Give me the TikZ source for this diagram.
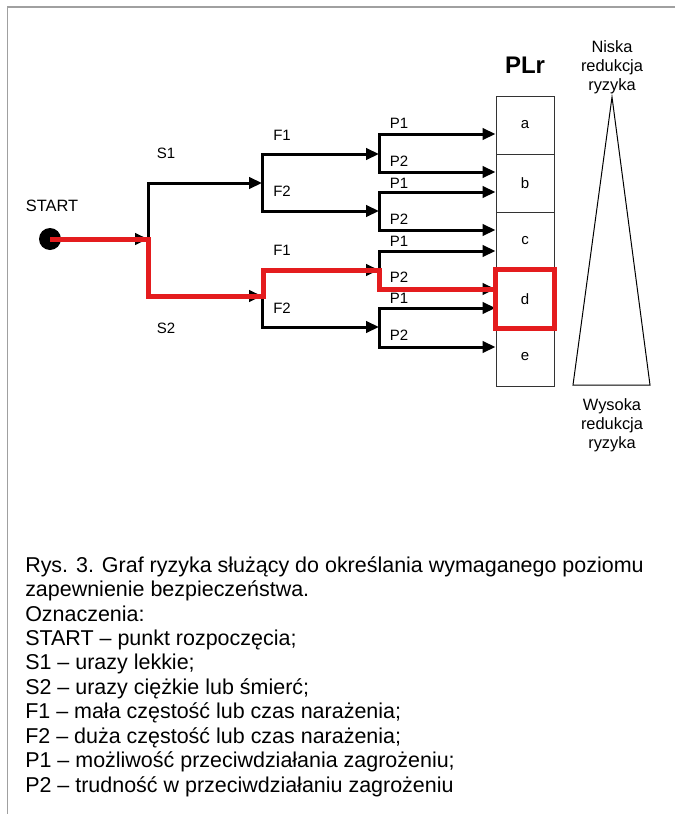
\documentclass[tikz,border=0pt]{standalone}
\usepackage{fontspec}
\setmainfont{Liberation Sans}
\usetikzlibrary{arrows.meta}
\definecolor{pathred}{RGB}{228,28,30}
\definecolor{framegray}{RGB}{160,160,160}
\begin{document}
\begin{tikzpicture}[x=0.75pt,y=-0.75pt,
  conn/.style={line width=2.25pt,-{Triangle[length=9.75pt,width=8.5pt]}},
  junc/.style={line width=2.25pt,line cap=rect},
  lbl/.style={font=\fontsize{11.25}{13}\selectfont,inner sep=0pt},
  biglbl/.style={font=\fontsize{12.3}{14.3}\selectfont,inner sep=0pt,align=center},
  cell/.style={draw=black!80,line width=0.75pt,minimum width=43.5pt,minimum height=43.5pt,inner sep=0pt,font=\fontsize{11.25}{13}\selectfont},
  redline/.style={draw=pathred,line width=3.75pt,line join=miter},
]
\useasboundingbox (0,0) rectangle (675,814);
% frame
\draw[framegray,line width=1.1pt] (675,7) -- (7.5,7) -- (7.5,814);

% PLr cells
\node[cell] (a) at (525,125) {a};
\node[cell] (b) at (525,183) {b};
\node[cell] (c) at (525,241) {c};
\node[cell] (d) at (525,299) {d};
\node[cell] (e) at (525,357) {e};
\node[font=\bfseries\fontsize{18}{20}\selectfont,inner sep=0pt] (plr) at (525,65) {PLr};

% triangle
\draw[line width=0.75pt] (573,385) -- (612,97) -- (650,385) -- cycle;
\node[biglbl,anchor=north] (niska) at (612,40) {Niska\\redukcja\\ryzyka};
\node[biglbl,anchor=north] (wysoka) at (612,398) {Wysoka\\redukcja\\ryzyka};

% start
\node[circle,fill=black,minimum size=16.5pt,inner sep=0pt] (dot) at (50,239) {};
\node[font=\fontsize{12.3}{14}\selectfont,inner sep=0pt] (startlbl) at (52,206) {START};

% junction coordinates
\coordinate (jS) at (148,239);
\coordinate (sTop) at (148,183);
\coordinate (sBot) at (148,296);
\coordinate (f1) at (262,183);
\coordinate (f1t) at (262,154);
\coordinate (f1b) at (262,211);
\coordinate (f2) at (262,296);
\coordinate (f2t) at (262,270);
\coordinate (f2b) at (262,327);
\coordinate (p1) at (379,154);
\coordinate (p1t) at (379,134);
\coordinate (p1b) at (379,172);
\coordinate (p2) at (379,211);
\coordinate (p2t) at (379,192);
\coordinate (p2b) at (379,230);
\coordinate (p3) at (379,270);
\coordinate (p3t) at (379,251);
\coordinate (p3b) at (379,289);
\coordinate (p4) at (379,327);
\coordinate (p4t) at (379,308);
\coordinate (p4b) at (379,347);

% black connectors
\draw[conn] (dot) -- (jS);
\draw[junc] (sTop) -- (sBot);
\draw[conn] (sTop) -- (f1);
\draw[conn] (sBot) -- (f2);
\draw[junc] (f1t) -- (f1b);
\draw[junc] (f2t) -- (f2b);
\draw[conn] (f1t) -- (p1);
\draw[conn] (f1b) -- (p2);
\draw[conn] (f2t) -- (p3);
\draw[conn] (f2b) -- (p4);
\draw[junc] (p1t) -- (p1b);
\draw[junc] (p2t) -- (p2b);
\draw[junc] (p3t) -- (p3b);
\draw[junc] (p4t) -- (p4b);
\draw[conn] (p1t) -- (p1t -| a.west);
\draw[conn] (p1b) -- (p1b -| b.west);
\draw[conn] (p2t) -- (p2t -| b.west);
\draw[conn] (p2b) -- (p2b -| c.west);
\draw[conn] (p3t) -- (p3t -| c.west);
\draw[conn] (p3b) -- (p3b -| d.west);
\draw[conn] (p4t) -- (p4t -| d.west);
\draw[conn] (p4b) -- (p4b -| e.west);

% labels
\node[lbl] (s1) at (166,153) {S1};
\node[lbl] (s2) at (166,328) {S2};
\node[lbl] (lf1a) at (282,135) {F1};
\node[lbl] (lf2a) at (282,191) {F2};
\node[lbl] (lf1b) at (282,250) {F1};
\node[lbl] (lf2b) at (282,308) {F2};
\node[lbl] (lp1a) at (399,123) {P1};
\node[lbl] (lp2a) at (399,161) {P2};
\node[lbl] (lp1b) at (399,183) {P1};
\node[lbl] (lp2b) at (399,219) {P2};
\node[lbl] (lp1c) at (399,241) {P1};
\node[lbl] (lp2c) at (399,277) {P2};
\node[lbl] (lp1d) at (399,298) {P1};
\node[lbl] (lp2d) at (399,335) {P2};

% red path and highlight
\draw[redline] (dot.center) -- (jS) -- (sBot) -- (263,296) -- (263,270) -- (p3) -- (p3b) -- (p3b -| d.west);
\draw[redline] (d.north west) rectangle (d.south east);

% caption
\node[anchor=north west,align=left,inner sep=0pt,font=\fontsize{16.1}{18.35}\selectfont] (caption) at (25,556)
{Rys. 3. Graf ryzyka służący do określania wymaganego poziomu\\
zapewnienie bezpieczeństwa.\\
Oznaczenia:\\
START – punkt rozpoczęcia;\\
S1 – urazy lekkie;\\
S2 – urazy ciężkie lub śmierć;\\
F1 – mała częstość lub czas narażenia;\\
F2 – duża częstość lub czas narażenia;\\
P1 – możliwość przeciwdziałania zagrożeniu;\\
P2 – trudność w przeciwdziałaniu zagrożeniu};
\end{tikzpicture}
\end{document}
